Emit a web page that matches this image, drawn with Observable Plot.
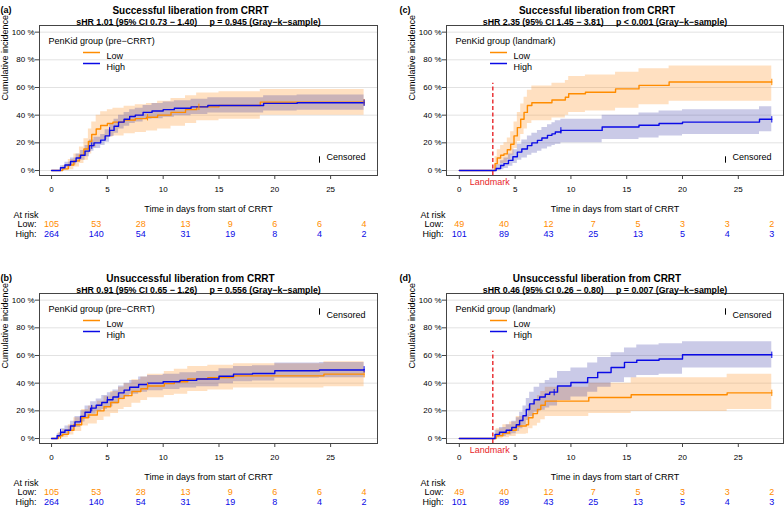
<!DOCTYPE html>
<html><head><meta charset="utf-8">
<script src="https://cdn.jsdelivr.net/npm/d3@7"></script>
<script src="https://cdn.jsdelivr.net/npm/@observablehq/plot@0.6"></script>
<style>
body{margin:0;background:#fff;}
#fig{position:relative;width:784px;height:509px;overflow:hidden;background:#fff;}
.panel{position:absolute;}
</style></head><body><div id="fig"></div>
<script>
// ---------- at-risk tables ----------
const riskTimes = [0, 4, 8, 12, 16, 20, 24, 28];
const riskPreLow = [105, 53, 28, 13, 9, 6, 6, 4];
const riskPreHigh = [264, 140, 54, 31, 19, 8, 4, 2];
const riskLmLow = [49, 40, 12, 7, 5, 3, 3, 2];
const riskLmHigh = [101, 89, 43, 25, 13, 5, 4, 3];
const xTicks = [0, 5, 10, 15, 20, 25];
const yTicks = [0, 0.2, 0.4, 0.6, 0.8, 1];
const landmarkDay = 3;

// ---------- (a) successful, pre-CRRT ----------
const aHighT  = [0, 0.8, 1.2, 1.7, 2.2, 2.6, 3.0, 3.4, 3.8, 4.4, 4.8, 5.2, 5.6, 6.0, 6.5, 7.0, 7.5, 8.2, 9.0, 10, 11, 12.5, 14, 17, 19, 22, 28];
const aHighP  = [0, 0.02, 0.04, 0.065, 0.09, 0.11, 0.14, 0.18, 0.20, 0.22, 0.25, 0.29, 0.32, 0.35, 0.37, 0.39, 0.40, 0.42, 0.43, 0.44, 0.45, 0.46, 0.47, 0.47, 0.485, 0.49, 0.49];
const aHighLo = [0, 0.005, 0.02, 0.04, 0.06, 0.075, 0.10, 0.14, 0.16, 0.18, 0.205, 0.245, 0.27, 0.30, 0.32, 0.34, 0.35, 0.37, 0.375, 0.385, 0.395, 0.405, 0.415, 0.415, 0.43, 0.435, 0.435];
const aHighHi = [0, 0.035, 0.06, 0.09, 0.12, 0.145, 0.18, 0.22, 0.24, 0.26, 0.295, 0.335, 0.37, 0.40, 0.42, 0.44, 0.45, 0.47, 0.485, 0.495, 0.505, 0.515, 0.525, 0.525, 0.54, 0.545, 0.545];
const aLowT  = [0, 1.0, 1.5, 2.0, 2.5, 2.9, 3.3, 3.6, 4.0, 4.4, 5.0, 5.5, 6.5, 7.5, 8.5, 9.5, 10.7, 12, 13, 15, 18.7, 28];
const aLowP  = [0, 0.012, 0.04, 0.07, 0.11, 0.155, 0.21, 0.26, 0.30, 0.325, 0.34, 0.35, 0.365, 0.375, 0.385, 0.40, 0.42, 0.44, 0.46, 0.47, 0.494, 0.494];
const aLowLo = [0, 0, 0.005, 0.025, 0.05, 0.075, 0.12, 0.165, 0.2, 0.225, 0.24, 0.25, 0.265, 0.275, 0.285, 0.30, 0.32, 0.34, 0.36, 0.37, 0.40, 0.40];
const aLowHi = [0, 0.035, 0.08, 0.12, 0.17, 0.23, 0.30, 0.35, 0.40, 0.425, 0.44, 0.45, 0.465, 0.475, 0.485, 0.50, 0.52, 0.54, 0.56, 0.57, 0.585, 0.585];
const aHighCens = [3.6, 5.2, 28];
const aLowCens = [8.6, 13.2, 28];

// ---------- (b) unsuccessful, pre-CRRT ----------
const bHighT  = [0, 0.5, 0.8, 1.2, 1.7, 2.1, 2.6, 3.0, 3.5, 4.0, 4.5, 5.0, 5.5, 6.0, 6.5, 7.0, 7.8, 8.6, 10, 11.5, 13, 15, 16.3, 18, 20, 24, 28];
const bHighP  = [0, 0.02, 0.045, 0.06, 0.09, 0.12, 0.16, 0.19, 0.22, 0.24, 0.26, 0.28, 0.30, 0.33, 0.35, 0.37, 0.39, 0.40, 0.41, 0.42, 0.43, 0.45, 0.465, 0.47, 0.49, 0.495, 0.50];
const bHighLo = [0, 0.005, 0.02, 0.03, 0.055, 0.08, 0.12, 0.145, 0.175, 0.195, 0.21, 0.23, 0.25, 0.28, 0.30, 0.32, 0.335, 0.345, 0.355, 0.365, 0.375, 0.395, 0.41, 0.415, 0.435, 0.44, 0.445];
const bHighHi = [0, 0.035, 0.07, 0.09, 0.125, 0.16, 0.20, 0.235, 0.265, 0.285, 0.31, 0.33, 0.35, 0.38, 0.40, 0.42, 0.445, 0.455, 0.465, 0.475, 0.485, 0.505, 0.52, 0.525, 0.545, 0.55, 0.555];
const bLowT  = [0, 0.6, 1.0, 1.5, 2.0, 2.7, 3.3, 4.1, 4.7, 5.3, 6.0, 6.5, 7.2, 8.0, 8.6, 10.1, 11, 12.2, 14, 16.3, 24.4, 28];
const bLowP  = [0, 0.02, 0.03, 0.06, 0.10, 0.15, 0.17, 0.20, 0.23, 0.26, 0.29, 0.31, 0.34, 0.36, 0.38, 0.397, 0.41, 0.43, 0.44, 0.453, 0.465, 0.465];
const bLowLo = [0, 0, 0.005, 0.025, 0.05, 0.09, 0.105, 0.13, 0.155, 0.18, 0.21, 0.225, 0.255, 0.275, 0.295, 0.31, 0.32, 0.34, 0.35, 0.365, 0.375, 0.375];
const bLowHi = [0, 0.045, 0.065, 0.1, 0.15, 0.21, 0.235, 0.27, 0.305, 0.34, 0.37, 0.395, 0.425, 0.445, 0.465, 0.485, 0.50, 0.52, 0.53, 0.54, 0.555, 0.555];
const bHighCens = [0.8, 3.6, 5.0, 28];
const bLowCens = [0.8, 8.6, 28];

// ---------- (c) successful, landmark ----------
const cLowT  = [0, 3.0, 3.2, 3.4, 3.7, 4.0, 4.3, 4.6, 4.9, 5.2, 5.5, 5.8, 6.1, 6.5, 8.3, 9.5, 9.8, 11.3, 14.0, 16.1, 18.8, 28];
const cLowP  = [0, 0, 0.05, 0.09, 0.11, 0.12, 0.15, 0.19, 0.25, 0.31, 0.37, 0.42, 0.47, 0.49, 0.51, 0.53, 0.555, 0.566, 0.59, 0.615, 0.64, 0.64];
const cLowLo = [0, 0, 0.01, 0.035, 0.05, 0.055, 0.08, 0.11, 0.16, 0.21, 0.26, 0.30, 0.34, 0.36, 0.38, 0.40, 0.42, 0.43, 0.45, 0.475, 0.50, 0.50];
const cLowHi = [0, 0, 0.10, 0.15, 0.18, 0.20, 0.235, 0.28, 0.35, 0.42, 0.48, 0.53, 0.58, 0.61, 0.63, 0.65, 0.68, 0.69, 0.71, 0.735, 0.755, 0.755];
const cHighT  = [0, 3.0, 3.3, 3.7, 4.0, 4.4, 4.8, 5.2, 5.6, 6.1, 6.5, 7.0, 7.4, 7.9, 8.3, 8.6, 9.1, 12.8, 16.1, 17.9, 20, 26.9, 28];
const cHighP  = [0, 0, 0.015, 0.036, 0.05, 0.073, 0.10, 0.133, 0.155, 0.18, 0.20, 0.218, 0.235, 0.254, 0.265, 0.278, 0.29, 0.314, 0.327, 0.34, 0.35, 0.37, 0.37];
const cHighLo = [0, 0, 0, 0.005, 0.015, 0.03, 0.05, 0.075, 0.09, 0.11, 0.125, 0.14, 0.155, 0.17, 0.18, 0.19, 0.20, 0.225, 0.235, 0.25, 0.26, 0.28, 0.28];
const cHighHi = [0, 0, 0.04, 0.07, 0.09, 0.12, 0.15, 0.19, 0.22, 0.25, 0.27, 0.29, 0.31, 0.33, 0.345, 0.36, 0.37, 0.40, 0.415, 0.43, 0.44, 0.46, 0.46];
const cHighCens = [9.1, 28];
const cLowCens = [28];

// ---------- (d) unsuccessful, landmark ----------
const dHighT  = [0, 3.0, 3.2, 3.6, 4.2, 4.7, 5.1, 5.4, 5.7, 6.0, 6.3, 6.7, 7.2, 7.7, 8.1, 8.8, 10, 11.5, 12.4, 13.6, 14.8, 15.9, 17.9, 20, 28];
const dHighP  = [0, 0, 0.03, 0.045, 0.06, 0.08, 0.10, 0.13, 0.165, 0.21, 0.25, 0.28, 0.30, 0.32, 0.335, 0.38, 0.405, 0.44, 0.477, 0.513, 0.55, 0.566, 0.575, 0.605, 0.605];
const dHighLo = [0, 0, 0.005, 0.015, 0.025, 0.035, 0.05, 0.07, 0.095, 0.13, 0.16, 0.19, 0.205, 0.22, 0.235, 0.275, 0.30, 0.335, 0.37, 0.405, 0.44, 0.455, 0.465, 0.51, 0.51];
const dHighHi = [0, 0, 0.06, 0.08, 0.1, 0.125, 0.15, 0.19, 0.235, 0.29, 0.335, 0.37, 0.395, 0.42, 0.435, 0.485, 0.51, 0.545, 0.585, 0.62, 0.655, 0.675, 0.685, 0.70, 0.70];
const dLowT  = [0, 3.0, 3.3, 3.9, 4.5, 5.1, 6.0, 6.2, 6.6, 7.0, 7.3, 7.7, 11.6, 15.4, 24, 28];
const dLowP  = [0, 0, 0.02, 0.04, 0.06, 0.09, 0.10, 0.15, 0.18, 0.21, 0.24, 0.27, 0.296, 0.316, 0.33, 0.33];
const dLowLo = [0, 0, 0, 0.005, 0.015, 0.03, 0.035, 0.07, 0.09, 0.11, 0.135, 0.16, 0.18, 0.195, 0.21, 0.21];
const dLowHi = [0, 0, 0.07, 0.1, 0.12, 0.16, 0.175, 0.24, 0.27, 0.31, 0.34, 0.37, 0.40, 0.44, 0.465, 0.465];
const dHighCens = [8.5, 28];
const dLowCens = [28];

// ---------- styling ----------
const ORANGE = "#FF8C00", BLUE = "#0A0AE6", RED = "#E8262A";
const FONT = '"Liberation Sans", Arial, Helvetica, sans-serif';
const vtick = {draw(ctx) { ctx.moveTo(0, -3.2); ctx.lineTo(0, 3.2); }};
const hline = {draw(ctx) { ctx.moveTo(-8.5, 0); ctx.lineTo(8.5, 0); }};

const rows = (t, p, lo, hi) => t.map((d, i) => ({t: d, p: p[i], lo: lo[i], hi: hi[i]}));
const stepAt = (data, t) => { let v = 0; for (const r of data) if (r.t <= t) v = r.p; return v; };
const cens = (data, ts) => ts.map(t => ({t, p: stepAt(data, t)}));
const risk = (ns) => riskTimes.map((t, i) => ({t, n: String(ns[i])}));

function panel(c) {
  const low = rows(...c.low), high = rows(...c.high);
  const fa = c.censTop ? "top-right" : "bottom-right";
  const cdy = c.censTop ? 18 : -16;
  return Plot.plot({
    width: 392, height: 241,
    marginTop: 25, marginBottom: 66, marginLeft: c.ml, marginRight: c.mr,
    x: {domain: c.xdom},
    y: {domain: [-0.036, 1.048]},
    style: {fontFamily: FONT, fontSize: "9px", background: "transparent", overflow: "visible"},
    marks: [
      Plot.gridY(yTicks, {stroke: "#e2e2e2", strokeOpacity: 1}),
      Plot.areaY(low, {x: "t", y1: "lo", y2: "hi", curve: "step-after", fill: "#FF9933", fillOpacity: 0.3}),
      Plot.areaY(high, {x: "t", y1: "lo", y2: "hi", curve: "step-after", fill: "#2A2AA0", fillOpacity: 0.25}),
      c.landmark ? Plot.ruleX([landmarkDay], {y1: -0.036, y2: 0.63, stroke: RED, strokeWidth: 1.4, strokeDasharray: "4,2.5"}) : null,
      c.landmark ? Plot.text([landmarkDay], {x: d => d, text: () => "Landmark", frameAnchor: "bottom", dy: 9, dx: -3, fill: RED, fontSize: 9}) : null,
      Plot.line(low, {x: "t", y: "p", curve: "step-after", stroke: ORANGE, strokeWidth: 1.4}),
      Plot.line(high, {x: "t", y: "p", curve: "step-after", stroke: BLUE, strokeWidth: 1.4}),
      Plot.dot(cens(low, c.lowCens), {x: "t", y: "p", symbol: vtick, fill: "none", stroke: ORANGE, strokeWidth: 1}),
      Plot.dot(cens(high, c.highCens), {x: "t", y: "p", symbol: vtick, fill: "none", stroke: BLUE, strokeWidth: 1}),
      Plot.frame({stroke: "#444"}),
      Plot.axisY({ticks: yTicks, tickFormat: d => `${Math.round(d * 100)} %`, tickSize: 4, tickPadding: 1, fontSize: 8, label: null, stroke: "#444"}),
      Plot.axisX({ticks: xTicks, tickSize: 4, tickPadding: 7, fontSize: 8, label: null, stroke: "#444"}),
      Plot.text(["Cumulative incidence"], {frameAnchor: "left", dx: -34, rotate: -90, fontSize: 9}),
      Plot.text(["Time in days from start of CRRT"], {frameAnchor: "bottom", dy: 36, fontSize: 9}),
      Plot.text([c.letter], {frameAnchor: "top-left", dx: c.letterDx, dy: -19, textAnchor: "start", fontWeight: "bold", fontSize: 9}),
      Plot.text([c.title], {frameAnchor: "top", dx: -18, dy: -19, fontWeight: "bold", fontSize: 10}),
      Plot.text([c.subtitle], {frameAnchor: "top", dx: -10, dy: -7, fontWeight: "bold", fontSize: 8.8}),
      // legend
      Plot.text([c.legendTitle], {frameAnchor: "top-left", dx: 9, dy: 12, textAnchor: "start", fontSize: 9}),
      Plot.dot([0], {frameAnchor: "top-left", dx: 52, dy: 27, symbol: hline, fill: "none", stroke: ORANGE, strokeWidth: 1.5}),
      Plot.dot([0], {frameAnchor: "top-left", dx: 52, dy: 38, symbol: hline, fill: "none", stroke: BLUE, strokeWidth: 1.5}),
      Plot.text(["Low"], {frameAnchor: "top-left", dx: 67, dy: 27, textAnchor: "start", fontSize: 9}),
      Plot.text(["High"], {frameAnchor: "top-left", dx: 67, dy: 38, textAnchor: "start", fontSize: 9}),
      Plot.dot([0], {frameAnchor: fa, dx: -58, dy: cdy, symbol: vtick, fill: "none", stroke: "#000", strokeWidth: 1}),
      Plot.text(["Censored"], {frameAnchor: fa, dx: -12, dy: cdy, textAnchor: "end", fontSize: 9}),
      // at risk
      Plot.text(["At risk"], {frameAnchor: "bottom-left", dx: -26, dy: 42, textAnchor: "start", fontSize: 9}),
      Plot.text(["Low:"], {frameAnchor: "bottom-left", dx: -3, dy: 51.7, textAnchor: "end", fontSize: 9}),
      Plot.text(["High:"], {frameAnchor: "bottom-left", dx: -3, dy: 61.7, textAnchor: "end", fontSize: 9}),
      Plot.text(risk(c.riskLow), {x: "t", text: "n", frameAnchor: "bottom", dy: 51.7, fill: ORANGE, fontSize: 9}),
      Plot.text(risk(c.riskHigh), {x: "t", text: "n", frameAnchor: "bottom", dy: 61.7, fill: BLUE, fontSize: 9})
    ]
  });
}

const SP = "\u00a0\u00a0\u00a0\u00a0\u00a0";
const panels = [
  {pos: [0, 0], letter: "(a)", letterDx: -39, ml: 39, mr: 15, xdom: [-1.08, 29.2],
   title: "Successful liberation from CRRT",
   subtitle: "sHR 1.01 (95% CI 0.73 − 1.40)" + SP + "p = 0.945 (Gray−k−sample)",
   legendTitle: "PenKid group (pre−CRRT)", censTop: false, landmark: false,
   low: [aLowT, aLowP, aLowLo, aLowHi], high: [aHighT, aHighP, aHighLo, aHighHi],
   lowCens: aLowCens, highCens: aHighCens, riskLow: riskPreLow, riskHigh: riskPreHigh},
  {pos: [0, 267.5], letter: "(b)", letterDx: -39, ml: 39, mr: 15, xdom: [-1.08, 29.2],
   title: "Unsuccessful liberation from CRRT",
   subtitle: "sHR 0.91 (95% CI 0.65 − 1.26)" + SP + "p = 0.556 (Gray−k−sample)",
   legendTitle: "PenKid group (pre−CRRT)", censTop: true, landmark: false,
   low: [bLowT, bLowP, bLowLo, bLowHi], high: [bHighT, bHighP, bHighLo, bHighHi],
   lowCens: bLowCens, highCens: bHighCens, riskLow: riskPreLow, riskHigh: riskPreHigh},
  {pos: [392, 0], letter: "(c)", letterDx: -47, ml: 54, mr: 1, xdom: [-1.15, 29.05],
   title: "Successful liberation from CRRT",
   subtitle: "sHR 2.35 (95% CI 1.45 − 3.81)" + SP + "p < 0.001 (Gray−k−sample)",
   legendTitle: "PenKid group (landmark)", censTop: false, landmark: true,
   low: [cLowT, cLowP, cLowLo, cLowHi], high: [cHighT, cHighP, cHighLo, cHighHi],
   lowCens: cLowCens, highCens: cHighCens, riskLow: riskLmLow, riskHigh: riskLmHigh},
  {pos: [392, 267.5], letter: "(d)", letterDx: -47, ml: 54, mr: 1, xdom: [-1.15, 29.05],
   title: "Unsuccessful liberation from CRRT",
   subtitle: "sHR 0.46 (95% CI 0.26 − 0.80)" + SP + "p = 0.007 (Gray−k−sample)",
   legendTitle: "PenKid group (landmark)", censTop: true, landmark: true,
   low: [dLowT, dLowP, dLowLo, dLowHi], high: [dHighT, dHighP, dHighLo, dHighHi],
   lowCens: dLowCens, highCens: dHighCens, riskLow: riskLmLow, riskHigh: riskLmHigh}
];

const fig = document.getElementById("fig");
for (const c of panels) {
  const div = document.createElement("div");
  div.className = "panel";
  div.style.left = c.pos[0] + "px";
  div.style.top = c.pos[1] + "px";
  div.appendChild(panel(c));
  fig.appendChild(div);
}
</script></body></html>
